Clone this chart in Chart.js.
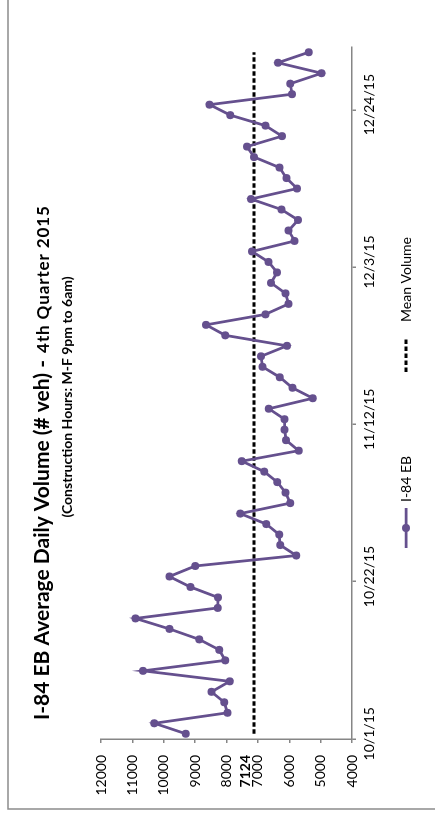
<!DOCTYPE html>
<html>
<head>
<meta charset="utf-8">
<script src="https://cdn.jsdelivr.net/npm/chart.js@4.4.0/dist/chart.umd.min.js"></script>
<style>
  html, body { margin: 0; padding: 0; background: #fff; overflow: hidden; width: 435px; height: 817px; }
  /* The chart is laid out landscape and turned a quarter turn counter-clockwise onto the page */
  #frame { position: absolute; left: 0; top: 0; width: 817px; height: 435px;
           transform-origin: 0 0; transform: translate(0, 817px) rotate(-90deg); }
  canvas { display: block; }
</style>
</head>
<body>
<div id="frame"><canvas id="chart" width="817" height="435"></canvas></div>
<script>
// Weekday dates of the quarter (construction nights, M-F)
const DATES = [
  '10/1/15','10/2/15','10/5/15','10/6/15','10/7/15','10/8/15','10/9/15','10/12/15','10/13/15','10/14/15',
  '10/15/15','10/16/15','10/19/15','10/20/15','10/21/15','10/22/15','10/23/15','10/26/15','10/27/15','10/28/15',
  '10/29/15','10/30/15','11/2/15','11/3/15','11/4/15','11/5/15','11/6/15','11/9/15','11/10/15','11/11/15',
  '11/12/15','11/13/15','11/16/15','11/17/15','11/18/15','11/19/15','11/20/15','11/23/15','11/24/15','11/25/15',
  '11/26/15','11/27/15','11/30/15','12/1/15','12/2/15','12/3/15','12/4/15','12/7/15','12/8/15','12/9/15',
  '12/10/15','12/11/15','12/14/15','12/15/15','12/16/15','12/17/15','12/18/15','12/21/15','12/22/15','12/23/15',
  '12/24/15','12/25/15','12/28/15','12/29/15','12/30/15','12/31/15'
];

// I-84 EB average daily volume (# veh), one value per date above
const VOLUME_I84_EB = [
  9300, 10300, 7970, 8070, 8480, 7900, 10660, 8040, 8230, 8870,
  9820, 10900, 8280, 8270, 9150, 9820, 9000, 5780, 6290, 6320,
  6730, 7560, 5970, 6120, 6380, 6800, 7510, 5700, 6100, 6150,
  6150, 6650, 5250, 5900, 6300, 6850, 6900, 6070, 8040, 8650,
  6760, 6020, 6120, 6580, 6390, 6660, 7190, 5830, 6020, 5720,
  6250, 7220, 5750, 6090, 6310, 7120, 7350, 6230, 6760, 7880,
  8540, 5910, 5970, 4970, 6360, 5380
];

// Quarter mean volume
const MEAN_VOLUME = 7124;

// Volume axis range and step
const VOLUME_MIN = 4000;
const VOLUME_MAX = 12000;
const VOLUME_STEP = 1000;

// A date label (and tick mark) every 15 weekdays
const DATE_LABEL_EVERY = 15;

const SERIES_NAMES = ['I-84 EB', 'Mean Volume'];
const TITLE_MAIN = 'I-84 EB Average Daily Volume (# veh)';
const TITLE_SUFFIX = '4th Quarter 2015';
const SUBTITLE = '(Construction Hours: M-F 9pm to 6am)';

const PURPLE = '#65508E';
const AXIS_GREY = '#868686';
const FONT = 'Lato, "Open Sans", "Liberation Sans", sans-serif';

// Title, subtitle, legend, mean label and outer frame
const decorations = {
  id: 'decorations',
  beforeDraw(chart) {
    const ctx = chart.ctx;
    ctx.save();
    ctx.strokeStyle = '#8c8c8c';
    ctx.lineWidth = 1.5;
    ctx.strokeRect(8, 8, 1200, 1200);
    ctx.restore();
  },
  afterDraw(chart) {
    const ctx = chart.ctx;
    const yScale = chart.scales.y;
    ctx.save();
    ctx.fillStyle = '#000';
    ctx.textBaseline = 'alphabetic';

    // Title: large main part followed by a smaller suffix on the same baseline
    ctx.textAlign = 'left';
    ctx.font = 'bold 21px ' + FONT;
    const titleX = 97, titleY = 49;
    ctx.fillText(TITLE_MAIN, titleX, titleY);
    let x = titleX + ctx.measureText(TITLE_MAIN).width;
    ctx.fillText(' - ', x, titleY);
    x += ctx.measureText(' - ').width + 2;
    ctx.font = 'bold 17px ' + FONT;
    if ('letterSpacing' in ctx) ctx.letterSpacing = '0.9px';
    ctx.fillText(TITLE_SUFFIX, x, titleY);
    if ('letterSpacing' in ctx) ctx.letterSpacing = '0px';

    // Subtitle
    ctx.textAlign = 'center';
    ctx.font = 'bold 14px ' + FONT;
    ctx.fillText(SUBTITLE, 420, 72);

    // Mean value label on the volume axis
    ctx.textAlign = 'right';
    ctx.textBaseline = 'middle';
    ctx.font = 'bold 14px ' + FONT;
    ctx.fillText(String(MEAN_VOLUME), yScale.right - 16, yScale.getPixelForValue(MEAN_VOLUME) - 9);

    // Legend
    const ly = 406;
    ctx.textAlign = 'left';
    ctx.font = '14px ' + FONT;
    const ds0 = chart.data.datasets[0];
    const ds1 = chart.data.datasets[1];
    ctx.strokeStyle = ds0.borderColor;
    ctx.lineWidth = ds0.borderWidth;
    ctx.beginPath(); ctx.moveTo(269, ly); ctx.lineTo(309, ly); ctx.stroke();
    ctx.fillStyle = ds0.pointBackgroundColor;
    ctx.beginPath(); ctx.arc(289, ly, ds0.pointRadius, 0, Math.PI * 2); ctx.fill();
    ctx.fillStyle = '#000';
    ctx.fillText(SERIES_NAMES[0], 315, ly);

    ctx.strokeStyle = ds1.borderColor;
    ctx.lineWidth = ds1.borderWidth;
    ctx.setLineDash(ds1.borderDash);
    ctx.beginPath(); ctx.moveTo(445, ly); ctx.lineTo(479, ly); ctx.stroke();
    ctx.setLineDash([]);
    ctx.fillText(SERIES_NAMES[1], 495, ly);
    ctx.restore();
  }
};

new Chart(document.getElementById('chart'), {
  type: 'line',
  data: {
    labels: DATES,
    datasets: [
      {
        label: SERIES_NAMES[0],
        data: VOLUME_I84_EB,
        borderColor: PURPLE,
        borderWidth: 2.75,
        pointRadius: 4,
        pointHoverRadius: 4,
        pointBackgroundColor: PURPLE,
        pointBorderWidth: 0,
        tension: 0
      },
      {
        label: SERIES_NAMES[1],
        data: [
          { x: DATES[0], y: MEAN_VOLUME },
          { x: DATES[DATES.length - 1], y: MEAN_VOLUME }
        ],
        borderColor: '#000',
        borderWidth: 3,
        borderDash: [4.5, 2.5],
        pointRadius: 0,
        tension: 0
      }
    ]
  },
  options: {
    responsive: false,
    animation: false,
    events: [],
    layout: { padding: { left: 8, top: 101, right: 47, bottom: 43 } },
    plugins: { legend: { display: false }, title: { display: false }, tooltip: { enabled: false } },
    scales: {
      x: {
        type: 'category',
        offset: true,
        afterFit(scale) { scale.height = 40; },
        border: { display: true, color: AXIS_GREY, width: 1.5 },
        grid: {
          offset: true,
          drawOnChartArea: false,
          drawTicks: true,
          tickLength: 4,
          lineWidth: 1.5,
          color: (c) => (c.index % DATE_LABEL_EVERY === 0 && c.index < DATES.length) ? AXIS_GREY : 'rgba(0,0,0,0)'
        },
        ticks: {
          autoSkip: false,
          maxRotation: 0,
          minRotation: 0,
          padding: 5,
          color: '#000',
          font: { family: FONT, size: 14 },
          callback(value, index) { return index % DATE_LABEL_EVERY === 0 ? DATES[index] : ''; }
        }
      },
      y: {
        min: VOLUME_MIN,
        max: VOLUME_MAX,
        afterFit(scale) { scale.width = 70; },
        border: { display: true, color: AXIS_GREY, width: 1.5 },
        grid: { drawOnChartArea: false, drawTicks: true, tickLength: 4, lineWidth: 1.5, color: AXIS_GREY },
        ticks: {
          stepSize: VOLUME_STEP,
          padding: 12,
          color: '#000',
          font: { family: FONT, size: 14 },
          callback(v) { return String(v); }
        }
      }
    }
  },
  plugins: [decorations]
});
</script>
</body>
</html>
